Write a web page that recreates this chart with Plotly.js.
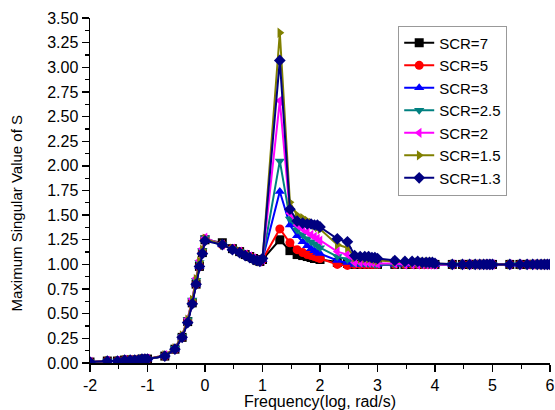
<!DOCTYPE html>
<html>
<head>
<meta charset="utf-8">
<script src="https://cdn.plot.ly/plotly-3.0.1.min.js"></script>
<style>html,body{margin:0;padding:0;background:#fff;}#chart{width:555px;height:410px;}</style>
</head>
<body>
<div id="chart"></div>
<script>
// Frequencies (rad/s), plotted on a log axis
var freq = [0.01,0.02,0.03,0.04,0.05,0.06,0.07,0.08,0.09,
  0.1,0.2,0.3,0.4,0.5,0.6,0.7,0.8,0.9,
  1,2,3,4,5,6,7,8,9,
  10,20,30,40,50,60,70,80,90,
  100,200,300,400,500,600,700,800,900,
  1000,2000,3000,4000,5000,6000,7000,8000,9000,
  10000,20000,30000,40000,50000,60000,70000,80000,90000,
  100000,200000,300000,400000,500000,600000,700000,800000,900000,
  1000000];

var scr7 = [0.01,0.02,0.02,0.03,0.03,0.03,0.03,0.04,0.04,
  0.04,0.07,0.14,0.26,0.42,0.61,0.80,0.98,1.12,
  1.25,1.22,1.16,1.13,1.10,1.08,1.06,1.04,1.03,
  1.05,1.25,1.14,1.10,1.09,1.08,1.07,1.06,1.06,
  1.05,1.02,1.01,1.00,1.00,1.00,1.00,1.00,1.00,
  1.00,1.00,1.00,1.00,1.00,1.00,1.00,1.00,1.00,
  1.00,1.00,1.00,1.00,1.00,1.00,1.00,1.00,1.00,
  1.00,1.00,1.00,1.00,1.00,1.00,1.00,1.00,1.00,
  1.00];
var scr5 = [0.01,0.02,0.02,0.03,0.03,0.03,0.03,0.04,0.04,
  0.04,0.07,0.14,0.26,0.42,0.61,0.80,0.98,1.12,
  1.26,1.20,1.16,1.13,1.10,1.08,1.06,1.04,1.03,
  1.05,1.36,1.22,1.15,1.12,1.10,1.09,1.08,1.07,
  1.06,1.00,0.99,1.00,1.00,1.00,1.00,1.00,1.00,
  1.00,1.00,1.00,1.00,1.00,1.00,1.00,1.00,1.00,
  1.00,1.00,1.00,1.00,1.00,1.00,1.00,1.00,1.00,
  1.00,1.00,1.00,1.00,1.00,1.00,1.00,1.00,1.00,
  1.00];
var scr3 = [0.01,0.02,0.02,0.03,0.03,0.03,0.03,0.04,0.04,
  0.04,0.07,0.14,0.26,0.42,0.61,0.80,0.98,1.12,
  1.26,1.20,1.16,1.13,1.10,1.08,1.06,1.04,1.03,
  1.05,1.74,1.40,1.29,1.23,1.19,1.16,1.14,1.12,
  1.11,1.04,1.02,1.00,1.00,1.00,1.00,1.00,1.00,
  1.00,1.00,1.00,1.00,1.00,1.00,1.00,1.00,1.00,
  1.00,1.00,1.00,1.00,1.00,1.00,1.00,1.00,1.00,
  1.00,1.00,1.00,1.00,1.00,1.00,1.00,1.00,1.00,
  1.00];
var scr25 = [0.01,0.02,0.02,0.03,0.03,0.03,0.03,0.04,0.04,
  0.04,0.07,0.15,0.27,0.44,0.64,0.84,1.02,1.14,
  1.27,1.20,1.16,1.13,1.10,1.08,1.06,1.04,1.03,
  1.05,2.05,1.46,1.35,1.30,1.26,1.23,1.21,1.19,
  1.17,1.08,1.05,1.01,1.01,1.01,1.01,1.01,1.00,
  1.00,1.00,1.00,1.00,1.00,1.00,1.00,1.00,1.00,
  1.00,1.00,1.00,1.00,1.00,1.00,1.00,1.00,1.00,
  1.00,1.00,1.00,1.00,1.00,1.00,1.00,1.00,1.00,
  1.00];
var scr2 = [0.01,0.02,0.02,0.03,0.03,0.03,0.03,0.04,0.04,
  0.04,0.08,0.15,0.28,0.45,0.65,0.86,1.04,1.16,
  1.27,1.20,1.16,1.13,1.10,1.08,1.06,1.04,1.03,
  1.05,2.66,1.52,1.40,1.36,1.33,1.30,1.28,1.26,
  1.24,1.13,1.10,1.02,1.02,1.02,1.02,1.02,1.02,
  1.01,1.01,1.00,1.00,1.00,1.00,1.00,1.00,1.00,
  1.00,1.00,1.00,1.00,1.00,1.00,1.00,1.00,1.00,
  1.00,1.00,1.00,1.00,1.00,1.00,1.00,1.00,1.00,
  1.00];
var scr15 = [0.01,0.02,0.02,0.03,0.03,0.03,0.03,0.04,0.04,
  0.04,0.08,0.15,0.28,0.44,0.64,0.85,1.03,1.15,
  1.26,1.20,1.16,1.13,1.10,1.08,1.06,1.04,1.03,
  1.05,3.35,1.63,1.50,1.47,1.44,1.42,1.40,1.38,
  1.36,1.20,1.17,1.07,1.06,1.06,1.06,1.06,1.05,
  1.04,1.03,1.02,1.02,1.02,1.02,1.02,1.02,1.02,
  1.01,1.00,1.00,1.00,1.00,1.00,1.00,1.00,1.00,
  1.00,1.00,1.00,1.00,1.00,1.00,1.00,1.00,1.00,
  1.00];
var scr13 = [0.01,0.02,0.02,0.03,0.03,0.03,0.03,0.04,0.04,
  0.04,0.07,0.14,0.26,0.41,0.60,0.80,0.98,1.11,
  1.24,1.20,1.15,1.12,1.09,1.07,1.05,1.04,1.03,
  1.06,3.07,1.56,1.44,1.42,1.41,1.41,1.40,1.40,
  1.38,1.26,1.23,1.09,1.08,1.08,1.08,1.07,1.07,
  1.06,1.04,1.03,1.03,1.03,1.02,1.02,1.02,1.02,
  1.01,1.00,1.00,1.00,1.00,1.00,1.00,1.00,1.00,
  1.00,1.00,1.00,1.00,1.00,1.00,1.00,1.00,1.00,
  1.00];

var seriesNames = ['SCR=7','SCR=5','SCR=3','SCR=2.5','SCR=2','SCR=1.5','SCR=1.3'];
var seriesValues = [scr7, scr5, scr3, scr25, scr2, scr15, scr13];
var seriesColors = ['#000000','#FF0000','#0000FF','#008080','#FF00FF','#808000','#000080'];
var seriesSymbols = ['square','circle','triangle-up','triangle-down','triangle-left','triangle-right','diamond'];

var xTickVals = [0.01,0.1,1,10,100,1000,10000,100000,1000000];
var xTickText = ['-2','-1','0','1','2','3','4','5','6'];
var xMinorVals = [0.0316,0.316,3.16,31.6,316,3162,31623,316228];

var traces = seriesNames.map(function(n, i) {
  return {
    x: freq, y: seriesValues[i], name: n, type: 'scatter', mode: 'lines+markers',
    line: {color: seriesColors[i], width: 2},
    marker: {color: seriesColors[i], symbol: seriesSymbols[i], size: 9}
  };
});

var layout = {
  width: 555, height: 410,
  margin: {l: 90, r: 5, t: 18, b: 47},
  paper_bgcolor: '#fff', plot_bgcolor: '#fff',
  font: {family: 'Arial, Liberation Sans, sans-serif', color: '#000', size: 15},
  showlegend: true,
  legend: {x: 0.67, y: 0.978, xanchor: 'left', yanchor: 'top',
    bordercolor: '#999', borderwidth: 1, bgcolor: '#fff',
    font: {size: 15}, tracegroupgap: 0},
  xaxis: {
    type: 'log', range: [-2, 6],
    tickmode: 'array', tickvals: xTickVals, ticktext: xTickText,
    ticks: 'outside', ticklen: 7, tickwidth: 1.3, tickcolor: '#000',
    minor: {tickmode: 'array', tickvals: xMinorVals, ticks: 'outside', ticklen: 4, tickwidth: 1.3, tickcolor: '#000', showgrid: false},
    showline: true, linecolor: '#000', linewidth: 1.5, mirror: false,
    showgrid: false, zeroline: false,
    tickfont: {size: 16},
    title: {text: 'Frequency(log, rad/s)', font: {size: 16}, standoff: 0}
  },
  yaxis: {
    range: [0, 3.5], tickmode: 'linear', tick0: 0, dtick: 0.25, tickformat: '.2f',
    ticks: 'outside', ticklen: 7, tickwidth: 1.3, tickcolor: '#000',
    minor: {dtick: 0.125, ticks: 'outside', ticklen: 4, tickwidth: 1.3, tickcolor: '#000', showgrid: false},
    showline: true, linecolor: '#000', linewidth: 1.5, mirror: false,
    showgrid: false, zeroline: false,
    tickfont: {size: 16}
  },
  annotations: [{
    text: 'Maximum Singular Value of S', textangle: -90,
    xref: 'paper', yref: 'paper', x: -0.159, y: 0.433,
    xanchor: 'center', yanchor: 'middle', showarrow: false,
    font: {size: 15, color: '#000'}
  }]
};

Plotly.newPlot('chart', traces, layout, {displayModeBar: false, staticPlot: true});
</script>
</body>
</html>
